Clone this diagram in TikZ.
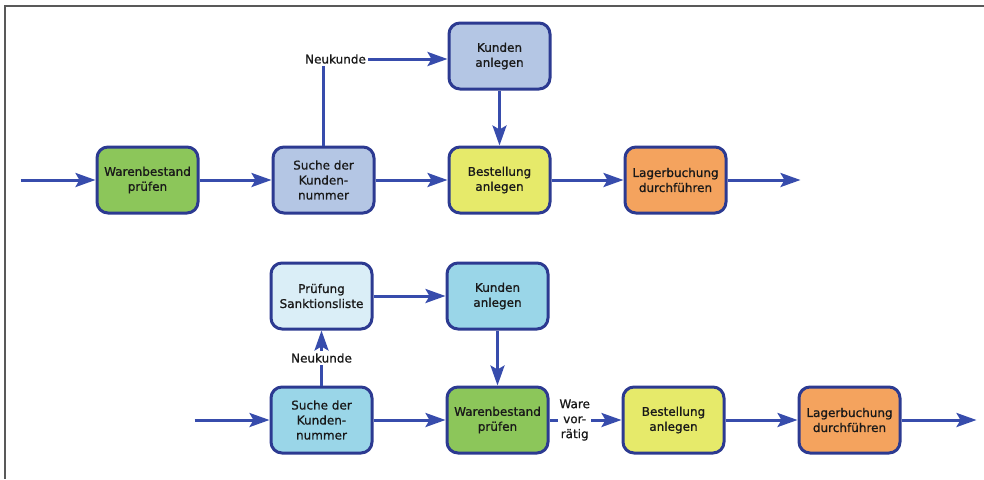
\documentclass[tikz,border=0pt]{standalone}
\usepackage{fontspec}
\setmainfont[FakeBold=0.9]{DejaVu Sans}
\usetikzlibrary{calc}
\usetikzlibrary{positioning}
\usetikzlibrary{arrows.meta}
\definecolor{pfeil}{RGB}{55,76,172}
\definecolor{rand}{RGB}{44,58,145}
\definecolor{gruen}{RGB}{140,198,90}
\definecolor{grau}{RGB}{180,198,228}
\definecolor{gelb}{RGB}{230,234,106}
\definecolor{lagerorange}{RGB}{244,163,94}
\definecolor{tuerkis}{RGB}{154,214,232}
\definecolor{hellblau}{RGB}{218,238,247}

\begin{document}
\begin{tikzpicture}[->, >={Stealth[length=20pt, width=14pt, inset=4pt]}, line width=3pt, draw=pfeil, node distance=72pt, font=\fontsize{12}{15}\selectfont]
    \tikzstyle{block}=[draw=rand, line width=3pt, rectangle, rounded corners=11pt, minimum width=101pt, minimum height=66pt, align=center, text=black!90, inner sep=2pt]
    \tikzstyle{beschr}=[text=black!90, inner sep=1pt]

    \useasboundingbox (0,0) rectangle (984pt,-479pt);
    \draw[-, line width=1.8pt, draw=black!65] (984pt,-6pt) -- (5pt,-6pt) -- (5pt,-479pt);

    % oben
    \node[block, fill=gruen] (ware1) at (147.5pt,-180pt) {Warenbestand\\prüfen};
    \node[block, fill=grau, right=of ware1] (suche1) {Suche der\\Kunden-\\nummer};
    \node[block, fill=gelb, right=of suche1] (best1) {Bestellung\\anlegen};
    \node[block, fill=lagerorange, right=of best1] (lager1) {Lagerbuchung\\durchführen};
    \node[block, fill=grau, above=55pt of best1] (kund1) {Kunden\\anlegen};
    \coordinate[left=75pt of ware1] (ein1);
    \coordinate[right=73pt of lager1] (aus1);
    \node[beschr] (neu1) at ($(suche1.north |- kund1)+(12pt,-3pt)$) {Neukunde};

    \draw (ein1) -- (ware1);
    \draw (ware1) -- (suche1);
    \draw (suche1) -- (best1);
    \draw (best1) -- (lager1);
    \draw (lager1) -- (aus1);
    \draw (kund1) -- (best1);
    \draw[-] (suche1.north) -- (suche1.north |- neu1.south);
    \draw (neu1) -- (neu1 -| kund1.west);

    % unten
    \node[block, fill=tuerkis] (suche2) at (321.5pt,-420pt) {Suche der\\Kunden-\\nummer};
    \node[block, fill=gruen, right=of suche2] (ware2) {Warenbestand\\prüfen};
    \node[block, fill=gelb, right=of ware2] (best2) {Bestellung\\anlegen};
    \node[block, fill=lagerorange, right=of best2] (lager2) {Lagerbuchung\\durchführen};
    \node[block, fill=hellblau, above=55pt of suche2] (pruef) {Prüfung\\Sanktionsliste};
    \node[block, fill=tuerkis, above=55pt of ware2] (kund2) {Kunden\\anlegen};
    \coordinate[left=75pt of suche2] (ein2);
    \coordinate[right=75pt of lager2] (aus2);
    \node[beschr] (neu2) at ($(suche2.north)!0.5!(pruef.south)$) {Neukunde};

    \draw (ein2) -- (suche2);
    \draw (suche2) -- (ware2);
    \draw (ware2) -- node[beschr, fill=white, align=center, pos=0.35] (vorr) {Ware\\vor-\\rätig} (best2);
    \draw (best2) -- (lager2);
    \draw (lager2) -- (aus2);
    \draw[-] (suche2.north) -- (neu2.south);
    \draw (neu2.north) -- (pruef.south);
    \draw (pruef) -- (kund2);
    \draw (kund2) -- (ware2);

\end{tikzpicture}
\end{document}
